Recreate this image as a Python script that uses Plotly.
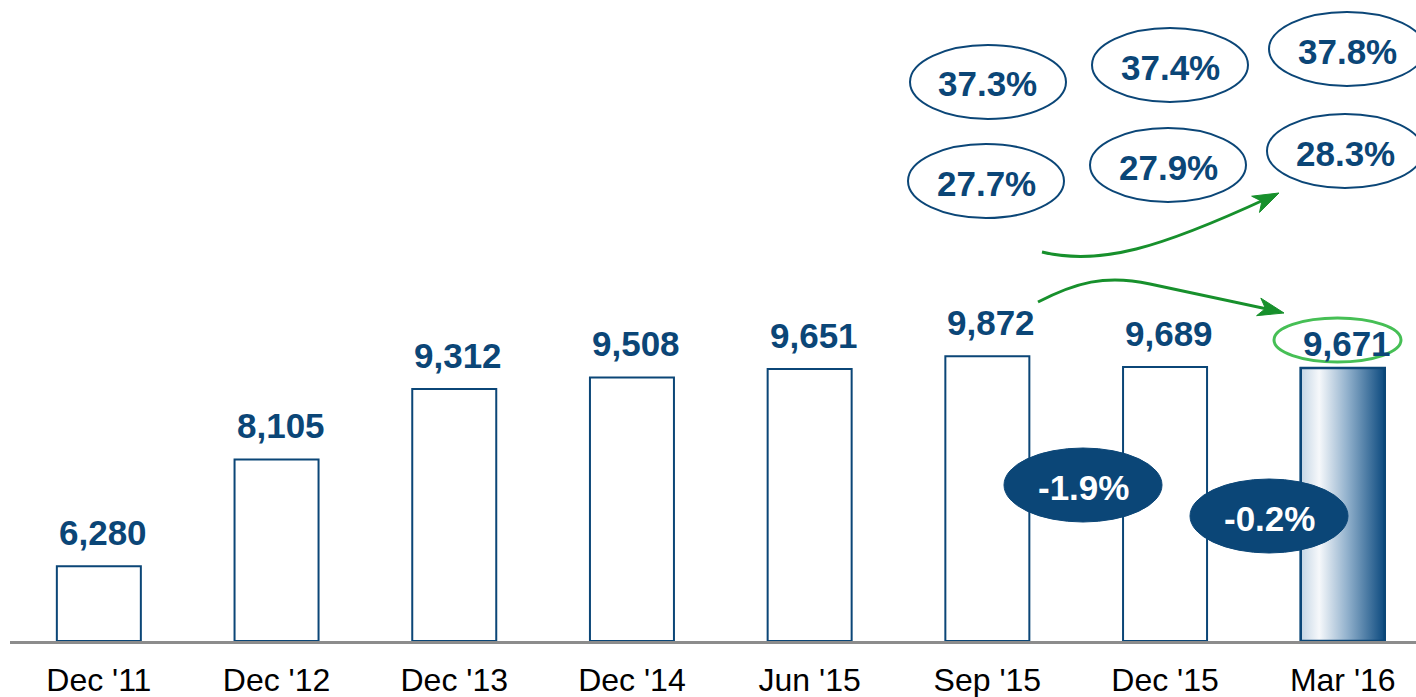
import math
import plotly.graph_objects as go

# ---------------- data ----------------
categories = ["Dec '11", "Dec '12", "Dec '13", "Dec '14", "Jun '15", "Sep '15", "Dec '15", "Mar '16"]
values = [6280, 8105, 9312, 9508, 9651, 9872, 9689, 9671]
value_labels = ["6,280", "8,105", "9,312", "9,508", "9,651", "9,872", "9,689", "9,671"]
ratio_top = ["37.3%", "37.4%", "37.8%"]
ratio_bottom = ["27.7%", "27.9%", "28.3%"]
changes = ["-1.9%", "-0.2%"]

# ---------------- style ----------------
NAVY = "#0B4677"
GREEN = "#17902C"
LIGHT_GREEN = "#46BF55"
FONT = "Liberation Sans, Arial, sans-serif"
W, H = 1416, 697
ML, MR, MT, MB = 10, 0, 0, 56
PW, PH = W - ML - MR, H - MT - MB
Y0 = 5000
Y_PER_PX = 1 / 0.05846
Y1 = Y0 + PH * Y_PER_PX
CAT_PX = 177.7
BAR_W = 0.4727
X1 = -0.5 + PW / CAT_PX


def px(x):
    return (x - ML) / PW


def py(y):
    return (H - MB - y) / PH


fig = go.Figure()

n = len(categories)
xs = list(range(n))
fig.add_trace(go.Bar(
    x=xs, y=[v - Y0 for v in values], base=Y0, width=BAR_W,
    marker=dict(color=["white"] * (n - 1) + ["rgba(0,0,0,0)"],
                line=dict(color=NAVY, width=2)),
    hoverinfo="skip", showlegend=False,
))

# gradient-filled last bar
i_last = n - 1
xl, xr = i_last - BAR_W / 2, i_last + BAR_W / 2
fig.add_trace(go.Scatter(
    x=[xl, xr, xr, xl, xl], y=[Y0, Y0, values[-1], values[-1], Y0],
    mode="lines", fill="toself",
    fillgradient=dict(type="horizontal",
                      colorscale=[[0, "#c4d5e4"], [0.22, "#f6f8fb"], [0.55, "#93b2cd"], [1, "#0c4a7f"]]),
    line=dict(color=NAVY, width=2.5), hoverinfo="skip", showlegend=False,
))

annotations = []
label_gap = [12] * (n - 1) + [3]
for i, (v, t) in enumerate(zip(values, value_labels)):
    annotations.append(dict(x=i, y=v, xref="x", yref="y", text=t, showarrow=False,
                            yanchor="bottom", yshift=label_gap[i], xshift=4,
                            font=dict(family=FONT, size=35, color=NAVY, weight="bold")))

shapes = []


def ellipse(cx, cy, w, h, line=NAVY, fill="white", lw=2):
    shapes.append(dict(type="circle", xref="paper", yref="paper", layer="above",
                       x0=px(cx - w / 2), x1=px(cx + w / 2), y0=py(cy + h / 2), y1=py(cy - h / 2),
                       line=dict(color=line, width=lw), fillcolor=fill))


def label(cx, cy, text, color=NAVY):
    annotations.append(dict(x=px(cx), y=py(cy), xref="paper", yref="paper", text=text,
                            showarrow=False, xanchor="center", yanchor="middle",
                            font=dict(family=FONT, size=35, color=color, weight="bold")))


top_pos = [(988, 82), (1170, 65), (1347, 49)]
bot_pos = [(986, 181), (1168, 165), (1345, 151)]
for (cx, cy), t in zip(top_pos, ratio_top):
    ellipse(cx, cy, 156, 74)
    label(cx, cy + 2, t)
for (cx, cy), t in zip(bot_pos, ratio_bottom):
    ellipse(cx, cy, 156, 74)
    label(cx, cy + 2, t)

chg_pos = [(1083, 485), (1269, 516)]
for (cx, cy), t in zip(chg_pos, changes):
    ellipse(cx, cy, 158, 74, line=NAVY, fill=NAVY, lw=1)
    label(cx, cy + 2, t, color="white")

# green highlight ellipse around last label
shapes.append(dict(type="circle", xref="paper", yref="paper", layer="above",
                   x0=px(1274), x1=px(1401), y0=py(362), y1=py(318),
                   line=dict(color=LIGHT_GREEN, width=3)))


def P(x, y):
    return f"{px(x):.5f},{py(y):.5f}"


# arrow 1 (upper)
shapes.append(dict(type="path", xref="paper", yref="paper", layer="above",
                   path=f"M{P(1042,252)} C{P(1100,266)} {P(1160,248)} {P(1268,198)}",
                   line=dict(color=GREEN, width=3)))
# arrow 2 (lower)
shapes.append(dict(type="path", xref="paper", yref="paper", layer="above",
                   path=f"M{P(1038,302)} C{P(1075,283)} {P(1105,274)} {P(1150,284)} L{P(1272,310)}",
                   line=dict(color=GREEN, width=3)))


def arrowhead(tipx, tipy, fromx, fromy, length=26, half=9, notch=7):
    ang = math.atan2(tipy - fromy, tipx - fromx)
    ux, uy = math.cos(ang), math.sin(ang)
    nx, ny = -uy, ux
    bx, by = tipx - ux * length, tipy - uy * length
    w1 = (bx + nx * half, by + ny * half)
    w2 = (bx - nx * half, by - ny * half)
    nt = (tipx - ux * (length - notch), tipy - uy * (length - notch))
    path = f"M{P(tipx,tipy)} L{P(*w1)} L{P(*nt)} L{P(*w2)} Z"
    shapes.append(dict(type="path", xref="paper", yref="paper", layer="above", path=path,
                       fillcolor=GREEN, line=dict(color=GREEN, width=1)))


arrowhead(1279, 193, 1250, 207)
arrowhead(1284, 313, 1255, 306)

fig.update_layout(
    width=W, height=H,
    margin=dict(l=ML, r=MR, t=MT, b=MB, autoexpand=False),
    plot_bgcolor="white", paper_bgcolor="white",
    showlegend=False,
    xaxis=dict(range=[-0.5, X1], tickvals=xs, ticktext=categories, showgrid=False,
               zeroline=False, showline=True, linecolor="#8C8C8C", linewidth=3,
               ticks="", ticklabelstandoff=9, automargin=False,
               tickfont=dict(family=FONT, size=32, color="black"), fixedrange=True),
    yaxis=dict(range=[Y0, Y1], visible=False, showgrid=False, zeroline=False, fixedrange=True),
    shapes=shapes, annotations=annotations,
)

fig.write_html("out.html", config={"displayModeBar": False},
               post_script="document.body.style.margin='0';document.body.style.overflow='hidden';")
